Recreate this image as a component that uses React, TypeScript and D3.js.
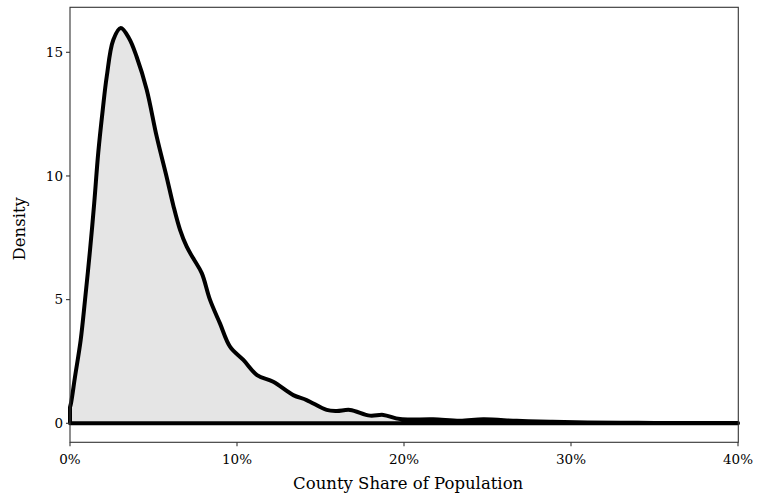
import React from "react";
import * as d3 from "d3";

const sharePct = [0, 0.06, 0.3, 0.64, 0.9, 1.2, 1.45, 1.69, 1.96, 2.2, 2.59, 3.04, 3.55, 3.99, 4.59, 5.19, 5.79, 6.19, 6.59, 6.99, 7.38, 7.89, 8.38, 8.98, 9.58, 10.38, 11.2, 12.17, 13.37, 14.17, 15.37, 15.97, 16.77, 17.96, 18.76, 19.76, 21.75, 23.35, 24.75, 26.75, 28.74, 31, 34, 37, 40];
const density = [0.65, 0.81, 1.88, 3.37, 4.99, 7.01, 8.9, 10.93, 12.67, 14.02, 15.5, 15.98, 15.55, 14.82, 13.5, 11.6, 9.95, 8.8, 7.82, 7.14, 6.67, 6.07, 5.0, 4.04, 3.1, 2.56, 1.95, 1.68, 1.14, 0.94, 0.54, 0.5, 0.54, 0.31, 0.34, 0.17, 0.16, 0.1, 0.16, 0.1, 0.06, 0.03, 0.02, 0.01, 0.01];
const xTicks = [0, 10, 20, 30, 40];
const yTicks = [0, 5, 10, 15];
const xTitle = "County Share of Population";
const yTitle = "Density";

const W = 757, H = 502;
const L = 70, R = 738.3, T = 7.3, B = 442.3;
const FONT = "DejaVu Serif";

export default function App() {
  const x = d3.scaleLinear().domain([0, 40]).range([L, L + 1670 * 0.4]);
  const y = d3.scaleLinear().domain([0, 15]).range([423.3, 52.3]);
  const pts: [number, number][] = sharePct.map((p, i) => [p, density[i]]);
  const line = d3.line<[number, number]>().x(d => x(d[0])).y(d => y(d[1])).curve(d3.curveCatmullRom);
  const top = line(pts) || "";
  const path = `${top}L${x(40)},${y(0)}L${x(0)},${y(0)}Z`;
  return (
    <svg width={W} height={H} style={{ position: "absolute", left: 0, top: 0 }}>
      <rect x={0} y={0} width={W} height={H} fill="#fff" />
      <path d={path} fill="#e5e5e5" stroke="#000" strokeWidth={4} strokeLinejoin="round" />
      <rect x={L} y={T} width={R - L} height={B - T} fill="none" stroke="#333" strokeWidth={1.1} />
      {yTicks.map(t => (
        <g key={"y" + t}>
          <line x1={L - 4} x2={L} y1={y(t)} y2={y(t)} stroke="#333" strokeWidth={1.1} />
          <text x={L - 7} y={y(t)} dy="0.36em" textAnchor="end" fontFamily={FONT} fontSize={13.5} fill="#000">{t}</text>
        </g>
      ))}
      {xTicks.map(t => (
        <g key={"x" + t}>
          <line x1={x(t)} x2={x(t)} y1={B} y2={B + 4} stroke="#333" strokeWidth={1.1} />
          <text x={x(t)} y={B + 22} textAnchor="middle" fontFamily={FONT} fontSize={13.5} fill="#000">{t + "%"}</text>
        </g>
      ))}
      <text x={(L + R) / 2 + 4} y={489} textAnchor="middle" fontFamily={FONT} fontSize={16.5} fill="#000">{xTitle}</text>
      <text transform={`translate(25,${(T + B) / 2 + 4}) rotate(-90)`} textAnchor="middle" fontFamily={FONT} fontSize={16.5} fill="#000">{yTitle}</text>
    </svg>
  );
}
